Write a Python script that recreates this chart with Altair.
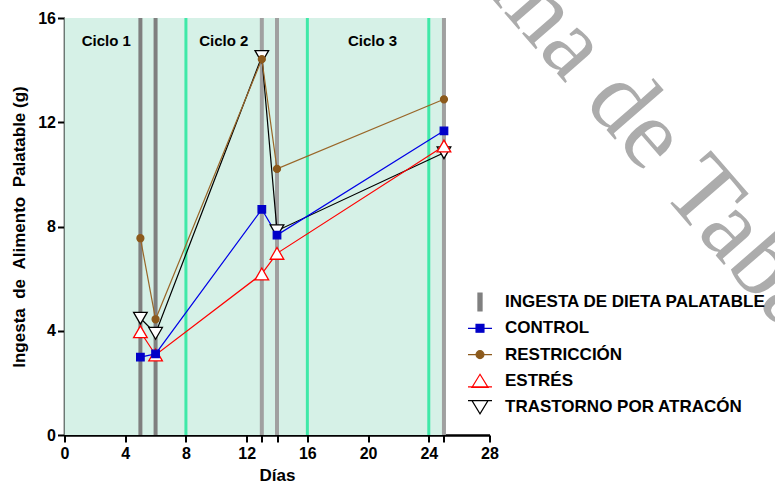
import altair as alt
import pandas as pd

# ---------------- data ----------------
dias = [5, 6, 13, 14, 25]
control = [2.99, 3.11, 8.66, 7.67, 11.67]
restriccion = [7.55, 4.44, 14.42, 10.21, 12.88]
estres = [3.96, 3.07, 6.18, 6.97, 11.09]
trastorno = [4.48, 3.90, 14.52, 7.84, 10.83]

series_nombres = ["CONTROL", "RESTRICCIÓN", "ESTRÉS", "TRASTORNO POR ATRACÓN"]
ingesta_nombre = "INGESTA DE DIETA PALATABLE"
dias_ingesta = [5, 6, 13, 14, 25]
limites_ciclo = [8, 16, 24]
periodo = [0, 25]
ciclos = ["Ciclo 1", "Ciclo 2", "Ciclo 3"]
ciclo_centros = [2.75, 10.5, 20.3]
ciclo_altura = 15.1
x_ticks = [0, 4, 8, 12, 13, 14, 16, 20, 24, 25, 28]
y_ticks = [0, 4, 8, 12, 16]
marca_agua = ["Universidad Juárez Autónoma", "de Tabasco"]

# ---------------- styles ----------------
FONT = "Liberation Sans"
W, H = 425, 417
LEFT, TOP = 64.5, 18

tonos_ingesta = ["#7f7f7f", "#7f7f7f", "#a0a0a0", "#a0a0a0", "#a0a0a0"]
estilos = {
    "CONTROL": dict(line="#0000e6", stroke="#0000c8", fill="#0000c8", shape="square", size=56),
    "RESTRICCIÓN": dict(line="#996628", stroke="#8c5a1c", fill="#8c5a1c", shape="circle", size=48),
    "ESTRÉS": dict(line="#ff0000", stroke="#ff0000", fill="#ffffff", shape="triangle-up", size=185),
    "TRASTORNO POR ATRACÓN": dict(line="#000000", stroke="#000000", fill="#ffffff", shape="triangle-down", size=185),
}
valores = {
    "CONTROL": control,
    "RESTRICCIÓN": restriccion,
    "ESTRÉS": estres,
    "TRASTORNO POR ATRACÓN": trastorno,
}
orden_dibujo = ["TRASTORNO POR ATRACÓN", "ESTRÉS", "RESTRICCIÓN", "CONTROL"]

xs = alt.Scale(domain=[0, 28], nice=False, zero=False)
ys = alt.Scale(domain=[0, 16], nice=False, zero=False)

common_axis = dict(
    grid=False, domainColor="black", domainWidth=2.5, tickColor="black", tickWidth=2,
    tickSize=7, labelFont=FONT, labelFontSize=16, labelFontWeight="bold", labelColor="black",
    titleFont=FONT, titleFontSize=17, titleFontWeight="bold", titleColor="black",
    labelOverlap=False, labelFlush=False,
)
Y_TITLE = "Ingesta\u00a0\u00a0de\u00a0\u00a0Alimento\u00a0\u00a0Palatable (g)"
xaxis = alt.Axis(values=x_ticks, labelExpr="datum.value % 4 == 0 ? datum.label : ''",
                 title="Días", labelPadding=3, titlePadding=6, **common_axis)
yaxis = alt.Axis(values=y_ticks, title=Y_TITLE, labelPadding=2, titlePadding=9, **common_axis)


def X(field):
    return alt.X(field, scale=xs, axis=xaxis, title="Días")


def Y(field):
    return alt.Y(field, scale=ys, axis=yaxis, title=Y_TITLE)


# ---------------- layers ----------------
fondo = alt.Chart(pd.DataFrame({"x0": [periodo[0]], "x1": [periodo[1]],
                                "y0": [y_ticks[0]], "y1": [y_ticks[-1]]})).mark_rect(
    color="#d6f1e7").encode(x=X("x0:Q"), x2="x1:Q", y=Y("y0:Q"), y2="y1:Q")

verdes = alt.Chart(pd.DataFrame({"dia": limites_ciclo})).mark_rule(
    color="#3fe9a8", strokeWidth=3).encode(x=X("dia:Q"))

grises = alt.Chart(pd.DataFrame({"dia": dias_ingesta, "tono": tonos_ingesta})).mark_rule(
    strokeWidth=4).encode(x=X("dia:Q"),
                          color=alt.Color("tono:N", scale=None, legend=None))

capas = [fondo, verdes, grises]

for s in orden_dibujo:
    df = pd.DataFrame({"dia": dias, "valor": valores[s]})
    capas.append(alt.Chart(df).mark_line(color=estilos[s]["line"], strokeWidth=1.2).encode(
        x=X("dia:Q"), y=Y("valor:Q")))

for s in orden_dibujo:
    e = estilos[s]
    df = pd.DataFrame({"dia": dias, "valor": valores[s]})
    capas.append(alt.Chart(df).mark_point(
        shape=e["shape"], size=e["size"], filled=True, fill=e["fill"], stroke=e["stroke"],
        strokeWidth=1.3, opacity=1).encode(x=X("dia:Q"), y=Y("valor:Q")))

textos = alt.Chart(pd.DataFrame({"t": ciclos, "x": ciclo_centros,
                                 "y": [ciclo_altura] * len(ciclos)})).mark_text(
    font=FONT, fontSize=15, fontWeight="bold", color="black", align="center",
    baseline="middle").encode(x=X("x:Q"), y=Y("y:Q"), text="t:N")
capas.append(textos)

# watermark (decorative text)
wm1 = alt.Chart(pd.DataFrame({"t": [marca_agua[0]]})).mark_text(
    font="Liberation Serif", fontSize=100, angle=49, align="right", baseline="alphabetic",
    color="#acacac").encode(text="t:N", x=alt.value(566 - LEFT), y=alt.value(84 - TOP))
wm2 = alt.Chart(pd.DataFrame({"t": [marca_agua[1]]})).mark_text(
    font="Liberation Serif", fontSize=100, angle=49, align="left", baseline="alphabetic",
    color="#acacac").encode(text="t:N", x=alt.value(583 - LEFT), y=alt.value(103 - TOP))
capas += [wm1, wm2]

# legend
dominio = [ingesta_nombre] + series_nombres
caja = "M0,-0.8M0,0.8"
simbolos = [
    caja + "M-0.17,-0.75H0.17V0.75H-0.17Z",
    caja + "M-1,0H1M-0.33,-0.33H0.33V0.33H-0.33Z",
    caja + "M-1,0H1M-0.33,0A0.33,0.33 0 1,0 0.33,0A0.33,0.33 0 1,0 -0.33,0Z",
    caja + "M-1,0.5H1M0,-0.55L0.67,0.55H-0.67Z",
    caja + "M-1,-0.55H1M-0.67,-0.55H0.67L0,0.55Z",
]
trazos = ["#808080"] + [estilos[s]["stroke"] for s in series_nombres]
rellenos = ["#808080"] + [estilos[s]["fill"] for s in series_nombres]

leg = alt.Legend(orient="none", legendX=467 - LEFT, legendY=289 - TOP, title=None,
                 labelFont=FONT, labelFontSize=17, labelFontWeight="bold", labelColor="black",
                 symbolSize=576, symbolStrokeWidth=1.2, labelOffset=12, rowPadding=1.3,
                 padding=0, labelLimit=500, symbolOpacity=1)

leyenda = alt.Chart(pd.DataFrame({"serie": dominio})).transform_filter("false").mark_point(
    opacity=1).encode(
    shape=alt.Shape("serie:N", scale=alt.Scale(domain=dominio, range=simbolos), legend=leg),
    stroke=alt.Stroke("serie:N", scale=alt.Scale(domain=dominio, range=trazos), legend=leg),
    fill=alt.Fill("serie:N", scale=alt.Scale(domain=dominio, range=rellenos), legend=leg),
)
capas.append(leyenda)

chart = alt.layer(*capas).properties(
    width=W, height=H,
    autosize=alt.AutoSizeParams(type="none"),
    padding={"left": LEFT, "top": TOP, "right": 775 - LEFT - W, "bottom": 483 - TOP - H},
).configure_view(stroke=None)

chart.save("out.html", embed_options={"renderer": "svg", "actions": False})
